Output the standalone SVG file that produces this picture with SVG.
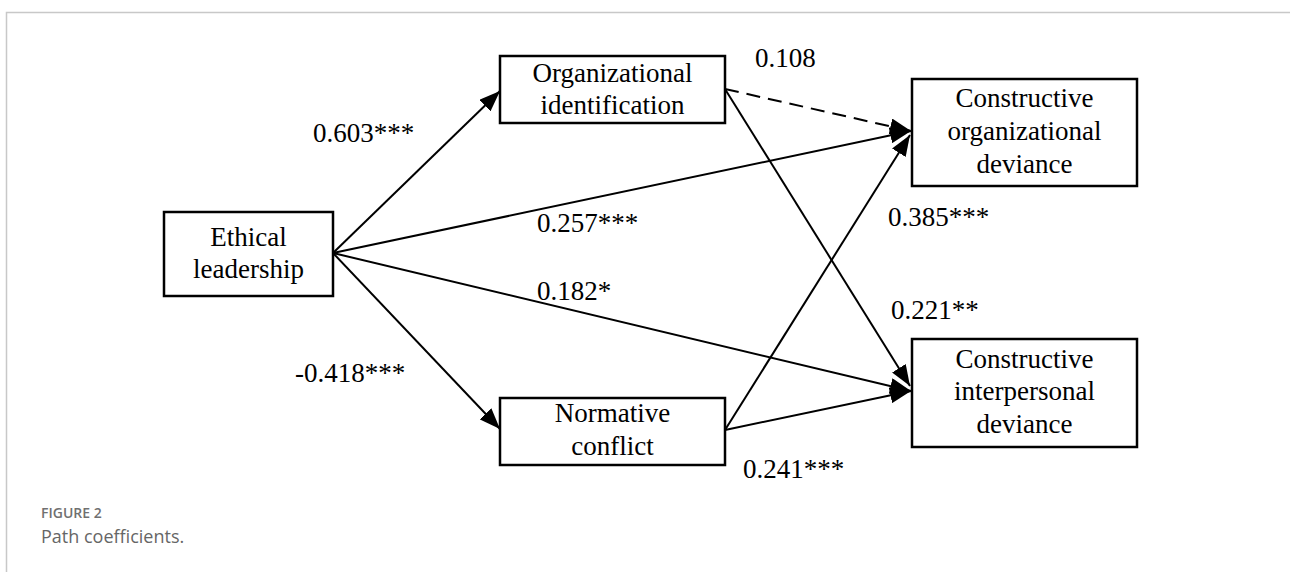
<svg xmlns="http://www.w3.org/2000/svg" width="1290" height="572" viewBox="0 0 1290 572">
<style>
.box{fill:#fff;stroke:#000;stroke-width:2.5}
.t{font-family:"Liberation Serif","Times New Roman",serif;font-size:27px;fill:#000}
.c{text-anchor:middle}
.ln{stroke:#000;stroke-width:2;fill:none;marker-end:url(#ah)}
.dash{stroke-dasharray:14 8}
.cap1{font-family:"Open Sans","Noto Sans",sans-serif;font-size:14px;font-weight:600;fill:#707070}
.cap2{font-family:"Open Sans","Noto Sans",sans-serif;font-size:18px;fill:#666}
</style>
<defs>
<marker id="ah" markerUnits="userSpaceOnUse" markerWidth="22" markerHeight="16" refX="21" refY="8" orient="auto" viewBox="0 0 22 16">
<path d="M0,0 L21,8 L0,16 z" fill="#000"/>
</marker>
</defs>
<rect width="1290" height="572" fill="#fff"/>
<path d="M6.5,572 V12.5 H1290" fill="none" stroke="#c8c8c8" stroke-width="1.5"/>
<g id="connectors">
<line class="ln" x1="333" y1="253" x2="500" y2="91"/>
<line class="ln" x1="333" y1="253" x2="500" y2="429"/>
<line class="ln" x1="333" y1="253" x2="911" y2="131"/>
<line class="ln" x1="333" y1="253" x2="911" y2="391"/>
<line class="ln dash" x1="725" y1="89" x2="911" y2="131"/>
<line class="ln" x1="725" y1="89" x2="910" y2="386"/>
<line class="ln" x1="725" y1="430" x2="910" y2="135"/>
<line class="ln" x1="725" y1="430" x2="911" y2="391"/>
</g>
<g id="labels">
<text class="t" x="313" y="142">0.603***</text>
<text class="t" x="755" y="67">0.108</text>
<text class="t" x="537" y="232">0.257***</text>
<text class="t" x="537" y="300">0.182*</text>
<text class="t" x="888" y="226">0.385***</text>
<text class="t" x="891" y="319">0.221**</text>
<text class="t" x="295" y="382">-0.418***</text>
<text class="t" x="743" y="478">0.241***</text>
</g>
<g id="node-ethical">
<rect class="box" x="164" y="212" width="169" height="84"/>
<text class="t c" x="248.5" y="246">Ethical</text>
<text class="t c" x="248.5" y="278">leadership</text>
</g>
<g id="node-orgid">
<rect class="box" x="500" y="56" width="225" height="67"/>
<text class="t c" x="612.5" y="82">Organizational</text>
<text class="t c" x="612.5" y="114">identification</text>
</g>
<g id="node-normative">
<rect class="box" x="500" y="398" width="225" height="67"/>
<text class="t c" x="612.5" y="422">Normative</text>
<text class="t c" x="612.5" y="455">conflict</text>
</g>
<g id="node-cod">
<rect class="box" x="912" y="79" width="225" height="107"/>
<text class="t c" x="1024.5" y="107">Constructive</text>
<text class="t c" x="1024.5" y="140">organizational</text>
<text class="t c" x="1024.5" y="173">deviance</text>
</g>
<g id="node-cid">
<rect class="box" x="912" y="339" width="225" height="108"/>
<text class="t c" x="1024.5" y="368">Constructive</text>
<text class="t c" x="1024.5" y="400">interpersonal</text>
<text class="t c" x="1024.5" y="433">deviance</text>
</g>
<text class="cap1" x="41" y="518">FIGURE 2</text>
<text class="cap2" x="41" y="543">Path coefficients.</text>
</svg>
